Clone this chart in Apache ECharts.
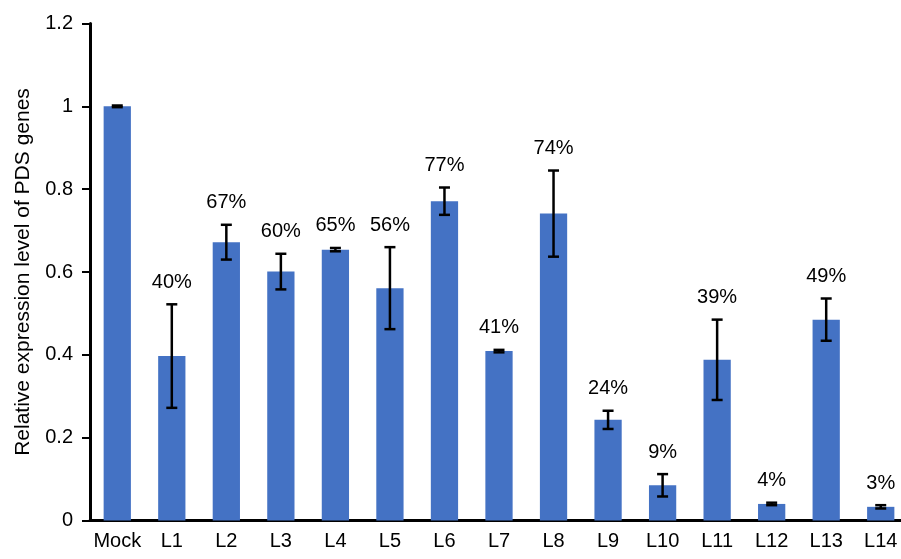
<!DOCTYPE html>
<html>
<head>
<meta charset="utf-8">
<script src="https://cdn.jsdelivr.net/npm/echarts@6/dist/echarts.min.js"></script>
<style>
html,body{margin:0;padding:0;background:#fff;}
#c{width:901px;height:559px;}
</style>
</head>
<body>
<div id="c"></div>
<script>
const categories = ['Mock','L1','L2','L3','L4','L5','L6','L7','L8','L9','L10','L11','L12','L13','L14'];
const values = [1.0,0.397,0.672,0.601,0.654,0.561,0.771,0.409,0.741,0.243,0.085,0.388,0.040,0.485,0.033];
const errors = [0.002,0.125,0.042,0.043,0.004,0.099,0.033,0.003,0.104,0.022,0.027,0.097,0.003,0.051,0.004];
const pctLabels = ['','40%','67%','60%','65%','56%','77%','41%','74%','24%','9%','39%','4%','49%','3%'];
const yTicks = [0,0.2,0.4,0.6,0.8,1,1.2];

const FONT = '"Liberation Sans", Arial, sans-serif';
const chart = echarts.init(document.getElementById('c'));

const errData = categories.map((c,i)=>[i, values[i]-errors[i], values[i]+errors[i], pctLabels[i]]);

chart.setOption({
  animation:false,
  backgroundColor:'#fff',
  grid:{left:90,right:-7,top:23.5,bottom:38.5,containLabel:false,outerBoundsMode:'none'},
  xAxis:{
    type:'category',
    data:categories,
    axisLine:{lineStyle:{color:'#000',width:3}},
    axisTick:{show:false},
    axisLabel:{color:'#000',fontSize:20,fontFamily:FONT,margin:11,interval:0}
  },
  yAxis:{
    type:'value',min:0,max:1.2,interval:0.2,
    name:'Relative expression level of PDS genes',
    nameLocation:'middle',nameGap:56,
    nameTextStyle:{color:'#000',fontSize:21,fontFamily:FONT},
    axisLine:{show:true,lineStyle:{color:'#000',width:3}},
    axisTick:{show:true,length:8,lineStyle:{color:'#000',width:2}},
    splitLine:{show:false},
    axisLabel:{color:'#000',fontSize:20,fontFamily:FONT,margin:17,
      formatter:v=>{const t=yTicks.find(x=>Math.abs(x-v)<1e-9);return String(+(t!==undefined?t:v).toFixed(1));}}
  },
  series:[
    {type:'bar',data:values,barWidth:'50%',itemStyle:{color:'#4472C4'},z:2},
    {type:'custom',data:errData,z:5,
      renderItem:function(params,api){
        const x=api.value(0);
        const lo=api.coord([x,api.value(1)]);
        const hi=api.coord([x,api.value(2)]);
        const cx=lo[0];
        const hw=5.5;
        const st={stroke:'#000',lineWidth:2.5};
        const children=[
          {type:'line',shape:{x1:cx,y1:lo[1],x2:cx,y2:hi[1]},style:st},
          {type:'line',shape:{x1:cx-hw,y1:lo[1],x2:cx+hw,y2:lo[1]},style:st},
          {type:'line',shape:{x1:cx-hw,y1:hi[1],x2:cx+hw,y2:hi[1]},style:st}
        ];
        const lbl=api.value(3);
        if(lbl){
          children.push({type:'text',style:{text:lbl,x:cx,y:hi[1]-22,align:'center',verticalAlign:'middle',
            fill:'#000',font:'20px '+FONT}});
        }
        return {type:'group',children:children};
      }
    }
  ]
});
</script>
</body>
</html>
